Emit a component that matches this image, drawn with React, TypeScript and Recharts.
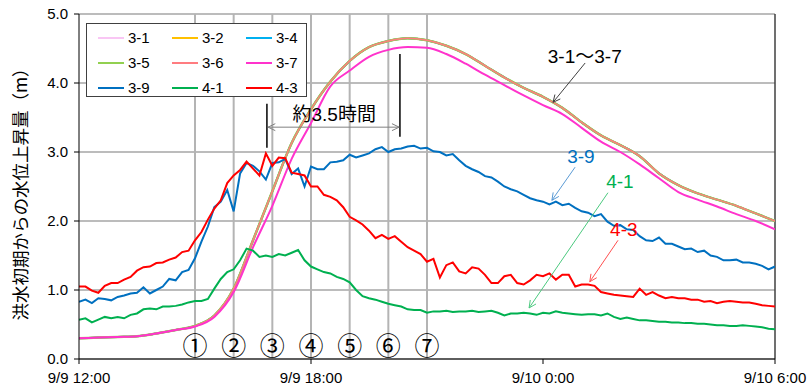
import { LineChart, Line, XAxis, YAxis, CartesianGrid, ReferenceLine, ReferenceDot } from 'recharts';

// 3-1 .. 3-6 overlap almost exactly (30 min steps from 9/9 12:00)
const s31to36 = [
  0.30, 0.31, 0.32, 0.33, 0.37, 0.42, 0.48, 0.63, 1.02, 1.72, 2.43, 3.13, 3.62, 4.02, 4.32, 4.52, 4.61, 4.65,
  4.62, 4.54, 4.42, 4.25, 4.08, 3.93, 3.80, 3.64, 3.43, 3.24, 3.10, 2.94, 2.69, 2.52, 2.40, 2.31, 2.22, 2.11, 2.00,
];
const s37 = [
  0.30, 0.31, 0.32, 0.33, 0.37, 0.42, 0.47, 0.61, 0.97, 1.62, 2.22, 2.90, 3.42, 3.95, 4.18, 4.38, 4.48, 4.52,
  4.51, 4.42, 4.28, 4.12, 3.97, 3.82, 3.68, 3.55, 3.35, 3.15, 3.00, 2.82, 2.62, 2.42, 2.31, 2.21, 2.10, 2.00, 1.88,
];

// 10 min steps
const s39 = [
  0.83, 0.86, 0.81, 0.88, 0.87, 0.85, 0.90, 0.92, 0.95, 0.96, 1.04, 0.95, 1.00, 1.05, 1.16, 1.14, 1.26, 1.29,
  1.46, 1.70, 1.92, 2.20, 2.28, 2.45, 2.14, 2.69, 2.84, 2.80, 2.72, 2.60, 2.84, 2.85, 2.90, 2.68, 2.76, 2.50,
  2.79, 2.75, 2.75, 2.85, 2.86, 2.88, 2.96, 2.92, 2.95, 2.98, 3.04, 3.07, 3.00, 3.04, 3.05, 3.08, 3.09, 3.05,
  3.06, 3.01, 3.00, 2.95, 2.97, 2.88, 2.80, 2.75, 2.71, 2.65, 2.63, 2.57, 2.50, 2.46, 2.43, 2.38, 2.33, 2.30,
  2.28, 2.24, 2.28, 2.23, 2.25, 2.19, 2.14, 2.12, 2.07, 2.10, 1.99, 1.93, 1.94, 1.88, 1.87, 1.78, 1.72, 1.71,
  1.76, 1.67, 1.67, 1.63, 1.59, 1.60, 1.55, 1.57, 1.50, 1.48, 1.43, 1.43, 1.44, 1.40, 1.40, 1.38, 1.35, 1.30,
  1.34,
];
const s41 = [
  0.57, 0.59, 0.53, 0.57, 0.61, 0.59, 0.61, 0.59, 0.64, 0.66, 0.72, 0.73, 0.72, 0.76, 0.76, 0.77, 0.79, 0.82,
  0.84, 0.84, 0.87, 1.02, 1.16, 1.26, 1.30, 1.43, 1.60, 1.57, 1.48, 1.50, 1.48, 1.52, 1.50, 1.54, 1.58, 1.43,
  1.34, 1.30, 1.26, 1.24, 1.19, 1.16, 1.11, 1.00, 0.91, 0.88, 0.86, 0.83, 0.80, 0.78, 0.76, 0.72, 0.71, 0.71,
  0.67, 0.69, 0.69, 0.70, 0.68, 0.69, 0.69, 0.70, 0.68, 0.69, 0.70, 0.67, 0.63, 0.66, 0.66, 0.67, 0.66, 0.64,
  0.67, 0.66, 0.69, 0.67, 0.66, 0.65, 0.64, 0.65, 0.65, 0.63, 0.66, 0.61, 0.58, 0.60, 0.58, 0.56, 0.56, 0.55,
  0.54, 0.54, 0.53, 0.53, 0.52, 0.52, 0.51, 0.51, 0.50, 0.49, 0.49, 0.48, 0.48, 0.49, 0.48, 0.47, 0.46, 0.44,
  0.43,
];
const s43 = [
  1.05, 1.05, 0.99, 0.96, 1.06, 1.10, 1.10, 1.15, 1.19, 1.28, 1.33, 1.34, 1.39, 1.40, 1.44, 1.47, 1.55, 1.57,
  1.72, 1.84, 2.02, 2.18, 2.30, 2.55, 2.66, 2.74, 2.86, 2.76, 2.66, 2.98, 2.80, 2.92, 2.91, 2.70, 2.68, 2.66,
  2.50, 2.50, 2.38, 2.35, 2.30, 2.20, 2.06, 2.01, 1.95, 1.86, 1.75, 1.80, 1.74, 1.78, 1.70, 1.62, 1.57, 1.52,
  1.41, 1.45, 1.18, 1.36, 1.40, 1.27, 1.24, 1.33, 1.31, 1.22, 1.10, 1.10, 1.20, 1.22, 1.10, 1.08, 1.14, 1.22,
  1.20, 1.24, 1.15, 1.22, 1.22, 1.05, 1.08, 1.08, 1.06, 0.97, 0.95, 0.93, 0.92, 0.91, 0.90, 1.02, 0.93, 0.97,
  0.92, 0.88, 0.90, 0.88, 0.88, 0.86, 0.86, 0.83, 0.84, 0.81, 0.83, 0.84, 0.83, 0.82, 0.82, 0.80, 0.78, 0.77,
  0.76,
];

const xTicks = [0, 6, 12, 18];
const xTickLabels = ['9/9 12:00', '9/9 18:00', '9/10 0:00', '9/10 6:00'];
const yTicks = [0, 1, 2, 3, 4, 5];
const markerHours = [3, 4, 5, 6, 7, 8, 9];
const markerLabels = ['①', '②', '③', '④', '⑤', '⑥', '⑦'];

const COLORS: Record<string, string> = {
  '3-1': '#f9c6f4',
  '3-2': '#ffc000',
  '3-4': '#00b0f0',
  '3-5': '#92d050',
  '3-6': '#ff7c80',
  '3-7': '#ff33cc',
  '3-9': '#0070c0',
  '4-1': '#00b050',
  '4-3': '#ff0000',
};
const legendNames = ['3-1', '3-2', '3-4', '3-5', '3-6', '3-7', '3-9', '4-1', '4-3'];

const smoothData = s31to36.map((v, i) => ({ t: i * 0.5, s3x: v, s37: s37[i] }));
const noisyData = s39.map((v, i) => ({ t: i / 6, s39: v, s41: s41[i], s43: s43[i] }));

const FONT = "'Liberation Sans', 'Noto Sans CJK JP', sans-serif";

const arrow = (color: string, both = false) => (p: any) => {
  const { x1, y1, x2, y2 } = p;
  const a = Math.atan2(y2 - y1, x2 - x1);
  const L = 8;
  const head = (x: number, y: number, ang: number) =>
    `M${x + L * Math.cos(ang + 0.45)},${y + L * Math.sin(ang + 0.45)}L${x},${y}L${x + L * Math.cos(ang - 0.45)},${y + L * Math.sin(ang - 0.45)}`;
  return (
    <g>
      <line x1={x1} y1={y1} x2={x2} y2={y2} stroke={color} strokeWidth={1} />
      <path d={head(x2, y2, a + Math.PI)} stroke={color} fill='none' strokeWidth={1} />
      {both && <path d={head(x1, y1, a)} stroke={color} fill='none' strokeWidth={1} />}
    </g>
  );
};

const note = (x: number, y: number, text: string, color: string, size = 19) => (
  <ReferenceDot
    x={x}
    y={y}
    r={0}
    fill='none'
    stroke='none'
    label={{ value: text, position: 'center', fill: color, fontSize: size, fontFamily: FONT }}
  />
);

export default function App() {
  return (
    <div style={{ position: 'absolute', left: 0, top: 0, width: 809, height: 392, background: '#fff' }}>
      <LineChart width={809} height={392} margin={{ top: 14, right: 34, bottom: 0, left: 0 }}>
        <CartesianGrid vertical={false} stroke='#a6a6a6' strokeWidth={1.5} />
        <XAxis
          type='number'
          dataKey='t'
          domain={[0, 18]}
          ticks={xTicks}
          allowDataOverflow
          height={33}
          tickFormatter={(v) => xTickLabels[xTicks.indexOf(v)]}
          tick={{ fill: '#000', fontSize: 15, fontFamily: FONT }}
          axisLine={{ stroke: '#000' }}
          tickLine={{ stroke: '#000' }}
          tickSize={5}
          tickMargin={8}
        />
        <YAxis
          domain={[0, 5]}
          ticks={yTicks}
          width={79}
          tickFormatter={(v) => v.toFixed(1)}
          tick={{ fill: '#000', fontSize: 15, fontFamily: FONT }}
          axisLine={{ stroke: '#000' }}
          tickLine={{ stroke: '#000' }}
          tickSize={5}
          tickMargin={6}
          label={{
            content: () => (
              <text
                x={19}
                y={190}
                transform='rotate(-90 19 190)'
                textAnchor='middle'
                dominantBaseline='central'
                fontSize={17.5}
                fontFamily="'Noto Sans CJK JP', sans-serif"
                fill='#000'
              >
                洪水初期からの水位上昇量（m）
              </text>
            ),
          }}
        />
        <ReferenceLine x={18} stroke='#404040' strokeWidth={1.5} />
        {markerHours.map((h, i) => (
          <ReferenceLine
            key={h}
            x={h}
            stroke='#b4b4b4'
            strokeWidth={2}
            label={{
              value: markerLabels[i],
              position: 'insideBottom',
              offset: 4,
              fill: '#000',
              fontSize: 25,
              fontFamily: "'Noto Sans CJK JP', sans-serif",
            }}
          />
        ))}

        <Line data={smoothData} dataKey='s3x' name='3-1' stroke={COLORS['3-1']} strokeWidth={2} dot={false} type='monotone' isAnimationActive={false} />
        <Line data={smoothData} dataKey='s3x' name='3-2' stroke={COLORS['3-2']} strokeWidth={2} dot={false} type='monotone' isAnimationActive={false} />
        <Line data={smoothData} dataKey='s3x' name='3-4' stroke={COLORS['3-4']} strokeWidth={2} dot={false} type='monotone' isAnimationActive={false} />
        <Line data={smoothData} dataKey='s3x' name='3-5' stroke={COLORS['3-5']} strokeWidth={2.5} dot={false} type='monotone' isAnimationActive={false} />
        <Line data={smoothData} dataKey='s3x' name='3-6' stroke={COLORS['3-6']} strokeWidth={1.5} dot={false} type='monotone' isAnimationActive={false} />
        <Line data={smoothData} dataKey='s37' name='3-7' stroke={COLORS['3-7']} strokeWidth={2} dot={false} type='monotone' isAnimationActive={false} />
        <Line data={noisyData} dataKey='s39' name='3-9' stroke={COLORS['3-9']} strokeWidth={2} dot={false} type='linear' isAnimationActive={false} />
        <Line data={noisyData} dataKey='s41' name='4-1' stroke={COLORS['4-1']} strokeWidth={2} dot={false} type='linear' isAnimationActive={false} />
        <Line data={noisyData} dataKey='s43' name='4-3' stroke={COLORS['4-3']} strokeWidth={2} dot={false} type='linear' isAnimationActive={false} />

        {/* 約3.5時間 */}
        <ReferenceLine segment={[{ x: 4.86, y: 3.7 }, { x: 4.86, y: 3.06 }]} stroke='#000' strokeWidth={1.5} />
        <ReferenceLine segment={[{ x: 8.3, y: 4.42 }, { x: 8.3, y: 3.22 }]} stroke='#000' strokeWidth={1.5} />
        <ReferenceLine segment={[{ x: 4.89, y: 3.36 }, { x: 8.28, y: 3.36 }]} shape={arrow('#808080', true)} />
        {note(6.6, 3.55, '約3.5時間', '#000')}

        <ReferenceLine segment={[{ x: 13.09, y: 4.29 }, { x: 12.26, y: 3.72 }]} shape={arrow('#404040')} />
        {note(13.08, 4.39, '3-1～3-7', '#000')}
        <ReferenceLine segment={[{ x: 12.83, y: 2.78 }, { x: 12.23, y: 2.3 }]} shape={arrow('#5b9bd5')} />
        {note(12.98, 2.94, '3-9', COLORS['3-9'])}
        <ReferenceLine segment={[{ x: 13.68, y: 2.41 }, { x: 11.64, y: 0.74 }]} shape={arrow('#4cc97f')} />
        {note(13.99, 2.58, '4-1', COLORS['4-1'])}
        <ReferenceLine segment={[{ x: 13.94, y: 1.72 }, { x: 13.21, y: 1.12 }]} shape={arrow('#ff5050')} />
        {note(14.09, 1.88, '4-3', COLORS['4-3'])}
      </LineChart>

      <div
        style={{
          position: 'absolute',
          left: 86,
          top: 23,
          width: 221,
          height: 74,
          border: '1px solid #404040',
          background: '#fff',
          display: 'grid',
          gridTemplateColumns: '74px 74px 74px',
          gridTemplateRows: '25px 25px 25px',
          paddingLeft: 11,
          paddingTop: 1,
          boxSizing: 'border-box',
          fontFamily: FONT,
          fontSize: 15,
        }}
      >
        {legendNames.map((n) => (
          <div key={n} style={{ display: 'flex', alignItems: 'center' }}>
            <span style={{ display: 'inline-block', width: 26, height: 2, background: COLORS[n], marginRight: 4 }} />
            <span>{n}</span>
          </div>
        ))}
      </div>
    </div>
  );
}
